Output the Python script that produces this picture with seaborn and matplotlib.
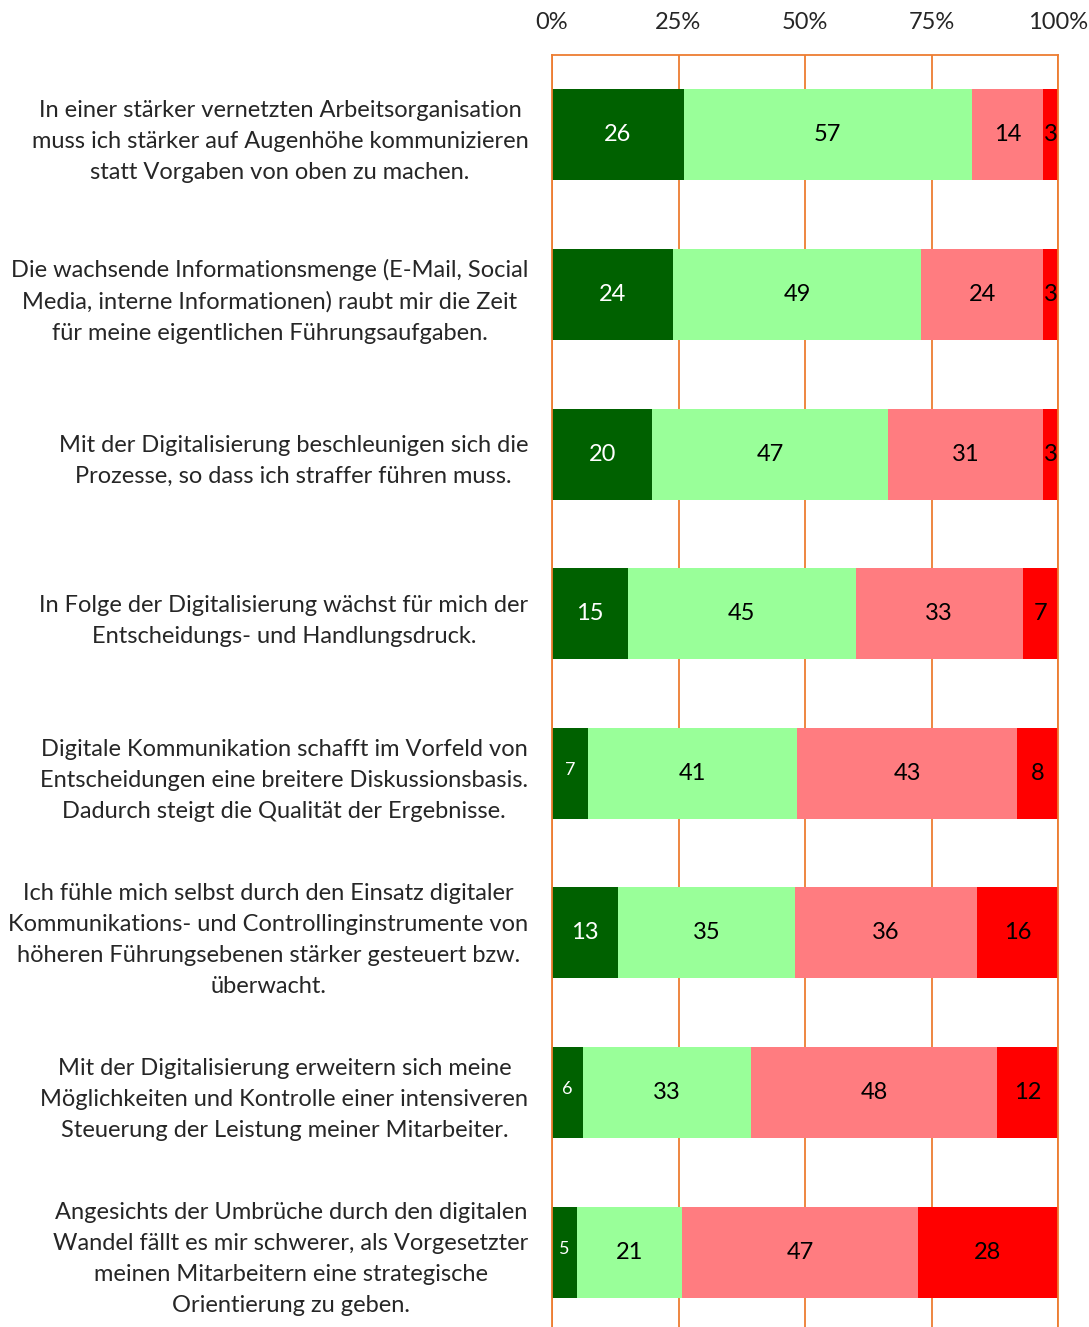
import numpy as np
import pandas as pd
import seaborn as sns
import matplotlib.pyplot as plt

# statements (y axis), top to bottom
statements = [
    "In einer stärker vernetzten Arbeitsorganisation\nmuss ich stärker auf Augenhöhe kommunizieren\nstatt Vorgaben von oben zu machen.",
    "Die wachsende Informationsmenge (E-Mail, Social\nMedia, interne Informationen) raubt mir die Zeit\nfür meine eigentlichen Führungsaufgaben.",
    "Mit der Digitalisierung beschleunigen sich die\nProzesse, so dass ich straffer führen muss.",
    "In Folge der Digitalisierung wächst für mich der\nEntscheidungs- und Handlungsdruck.",
    "Digitale Kommunikation schafft im Vorfeld von\nEntscheidungen eine breitere Diskussionsbasis.\nDadurch steigt die Qualität der Ergebnisse.",
    "Ich fühle mich selbst durch den Einsatz digitaler\nKommunikations- und Controllinginstrumente von\nhöheren Führungsebenen stärker gesteuert bzw.\nüberwacht.",
    "Mit der Digitalisierung erweitern sich meine\nMöglichkeiten und Kontrolle einer intensiveren\nSteuerung der Leistung meiner Mitarbeiter.",
    "Angesichts der Umbrüche durch den digitalen\nWandel fällt es mir schwerer, als Vorgesetzter\nmeinen Mitarbeitern eine strategische\nOrientierung zu geben.",
]

# answer shares in percent
trifft_voll_zu = [26, 24, 20, 15, 7, 13, 6, 5]
trifft_eher_zu = [57, 49, 47, 45, 41, 35, 33, 21]
trifft_eher_nicht_zu = [14, 24, 31, 33, 43, 36, 48, 47]
trifft_nicht_zu = [3, 3, 3, 7, 8, 16, 12, 28]

x_ticks = [0, 25, 50, 75, 100]
x_tick_labels = ["0%", "25%", "50%", "75%", "100%"]

series = ["voll", "eher", "eher_nicht", "nicht"]
colors = ["#006100", "#99FF99", "#FF7C80", "#FF0000"]
text_colors = ["white", "black", "black", "black"]

df = pd.DataFrame({
    "voll": trifft_voll_zu,
    "eher": trifft_eher_zu,
    "eher_nicht": trifft_eher_nicht_zu,
    "nicht": trifft_nicht_zu,
}, index=statements)

# bars are drawn as 100% stacked
share = df.div(df.sum(axis=1), axis=0) * 100
cum = share.cumsum(axis=1)

sns.set_style("white")
plt.rcParams["font.family"] = ["Lato", "DejaVu Sans"]

fig = plt.figure(figsize=(10.89, 13.27), dpi=100)
ax = fig.add_axes([552 / 1089, -5 / 1327, 506 / 1089, 1277 / 1327])

# draw cumulative bars from the right-most series backwards
for col, color in reversed(list(zip(series, colors))):
    sns.barplot(x=cum[col].values, y=statements, color=color, orient="h",
                width=0.57, saturation=1, edgecolor="none", linewidth=0,
                ax=ax, zorder=2)

# value labels
for i, stmt in enumerate(statements):
    for col, tc in zip(series, text_colors):
        val = df.loc[stmt, col]
        center = cum.loc[stmt, col] - share.loc[stmt, col] / 2
        small = col == "voll" and val < 10
        ax.text(center, i - (0.02 if small else 0), str(val), ha="center",
                va="center", color=tc, fontsize=13 if small else 17,
                zorder=3)

ax.set_xlim(0, 100)
ax.set_ylim(7.5, -0.5)
ax.set_xticks(x_ticks)
ax.set_xticklabels(x_tick_labels, fontsize=17)
ax.xaxis.tick_top()
ax.tick_params(axis="x", length=0, pad=15.5)
ax.tick_params(axis="y", length=0, pad=17)
for lab in ax.get_yticklabels():
    lab.set_fontsize(17)
    lab.set_horizontalalignment("right")
    lab.set_multialignment("center")
    lab.set_linespacing(1.58)
ax.set_xlabel("")
ax.set_ylabel("")

ax.grid(axis="x", color="#ED7D31", linewidth=1.3)
ax.set_axisbelow(True)
for side in ["top", "left", "right", "bottom"]:
    ax.spines[side].set_color("#ED7D31")
    ax.spines[side].set_linewidth(1.3)

fig.savefig("out.png", dpi=100)
